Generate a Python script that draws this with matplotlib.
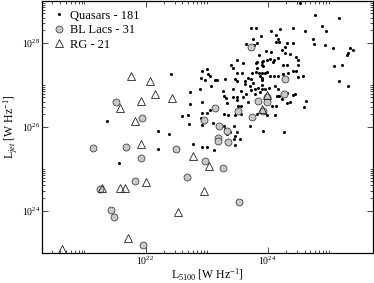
import numpy as np
import matplotlib
matplotlib.use('Agg')
import matplotlib.pyplot as plt
from matplotlib.ticker import FixedLocator, NullFormatter, LogFormatterMathtext

plt.rcParams['font.family'] = ['Liberation Serif', 'DejaVu Serif']
plt.rcParams['mathtext.fontset'] = 'custom'
plt.rcParams['mathtext.rm'] = 'Liberation Serif'
plt.rcParams['mathtext.it'] = 'Liberation Serif:italic'

# log10 L5100 and log10 Ljet [W/Hz]
qso_logx = [24.52, 24.77, 25.17, 24.89, 24.95, 23.72, 23.80, 24.05, 24.20, 24.41,
            24.61, 23.89, 24.14, 23.76, 24.16, 24.13, 24.18, 23.82, 23.77, 23.65,
            24.31, 24.29, 24.41, 24.74, 24.76, 24.94, 25.07, 25.35, 25.39, 25.31,
            25.30, 23.97, 24.06, 24.24, 24.28, 24.36, 24.46, 23.85, 23.83, 23.80,
            23.93, 23.98, 24.03, 24.10, 24.16, 24.50, 24.49, 23.50, 23.40, 23.43,
            24.25, 23.91, 23.92, 25.09, 25.22, 22.92, 23.00, 23.03, 23.05, 22.91,
            22.97, 23.13, 23.17, 23.30, 23.49, 23.58, 23.47, 23.49, 23.68, 23.72,
            23.80, 23.85, 23.90, 23.95, 23.98, 23.87, 23.90, 23.91, 24.10, 24.16,
            24.25, 24.33, 24.42, 24.46, 24.49, 24.58, 25.17, 25.31, 22.89, 23.07,
            23.27, 23.43, 23.57, 23.62, 23.71, 23.73, 23.79, 23.90, 23.91, 24.02,
            24.12, 24.17, 23.29, 23.32, 23.49, 23.50, 23.60, 23.65, 23.79, 23.87,
            24.41, 24.44, 24.15, 24.19, 24.63, 24.59, 23.34, 23.51, 23.56, 24.07,
            24.14, 24.24, 24.31, 24.36, 22.92, 22.90, 23.29, 23.35, 23.46, 23.57,
            23.82, 23.98, 24.12, 23.96, 22.92, 23.10, 23.30, 23.38, 23.34, 23.49,
            23.71, 23.92, 24.27, 23.46, 23.06, 23.44, 23.55, 23.46, 22.77, 22.92,
            23.00, 23.12, 23.29, 23.44, 23.74, 21.37, 22.42, 22.72, 22.59, 22.70,
            22.71, 22.20, 22.38, 22.20, 21.56, 22.72, 23.90, 23.82, 23.60, 24.31,
            24.09, 23.62, 23.76, 24.03, 23.84, 23.95, 23.43, 24.32, 22.92, 23.68,
            23.00]
qso_logy = [28.95, 28.66, 28.60, 28.41, 28.29, 28.36, 28.36, 28.28, 28.33, 28.35,
            28.27, 28.17, 28.19, 28.09, 28.09, 28.01, 28.01, 27.99, 27.96, 27.97,
            27.99, 27.91, 27.99, 28.09, 27.97, 27.95, 27.88, 27.88, 27.82, 27.76,
            27.72, 27.80, 27.78, 27.84, 27.76, 27.73, 27.66, 27.72, 27.54, 27.52,
            27.56, 27.60, 27.62, 27.58, 27.64, 27.59, 27.48, 27.58, 27.48, 27.41,
            27.48, 27.48, 27.44, 27.44, 27.46, 27.34, 27.38, 27.25, 27.21, 27.17,
            27.11, 27.12, 27.11, 27.13, 27.27, 27.27, 27.15, 27.09, 27.17, 27.13,
            27.30, 27.29, 27.29, 27.29, 27.31, 27.22, 27.17, 27.11, 27.21, 27.22,
            27.25, 27.29, 27.33, 27.33, 27.19, 27.21, 27.08, 26.96, 26.89, 26.96,
            26.85, 26.91, 26.85, 27.01, 26.96, 26.88, 26.89, 26.99, 26.89, 26.93,
            26.96, 26.91, 26.74, 26.68, 26.70, 26.64, 26.71, 26.78, 26.78, 26.82,
            26.76, 26.79, 26.74, 26.74, 26.62, 26.46, 26.56, 26.50, 26.50, 26.49,
            26.50, 26.66, 26.57, 26.58, 26.33, 26.21, 26.31, 26.27, 26.28, 26.31,
            26.31, 26.28, 26.27, 26.33, 26.04, 26.08, 25.95, 25.88, 25.84, 25.88,
            26.03, 25.90, 25.88, 25.78, 26.40, 25.71, 25.71, 25.56, 25.58, 25.53,
            25.51, 25.45, 26.01, 26.01, 27.29, 26.13, 27.25, 26.82, 26.25, 26.27,
            26.06, 25.91, 25.82, 25.48, 25.13, 26.54, 27.54, 27.41, 27.52, 27.48,
            27.54, 27.08, 27.05, 27.22, 26.93, 26.89, 26.70, 26.80, 26.58, 26.58,
            26.33]

bll_logx = [21.51, 21.94, 21.14, 21.68, 22.50, 21.92, 21.83, 22.68, 21.26, 21.43,
            21.48, 21.96, 22.98, 23.26, 23.53, 23.73, 24.28, 24.26, 23.98, 23.84,
            23.98, 23.14, 23.52, 23.92, 22.96, 23.75, 23.20, 23.34, 23.18, 23.19,
            23.35]
bll_logy = [26.59, 26.22, 25.50, 25.53, 25.48, 25.25, 24.72, 24.80, 24.51, 24.02,
            23.84, 23.19, 25.18, 25.01, 24.20, 27.90, 27.15, 26.79, 26.70, 26.62,
            26.58, 26.44, 26.37, 26.38, 26.17, 26.23, 26.02, 25.91, 25.74, 25.67,
            25.63]

rg_logx = [21.76, 22.08, 22.15, 22.44, 21.92, 21.59, 21.82, 21.92, 22.00, 21.29,
           21.58, 21.66, 22.53, 21.71, 20.63, 22.77, 23.04, 22.95, 23.98, 23.91]
rg_logy = [27.22, 27.09, 26.79, 26.68, 26.62, 26.45, 26.13, 25.58, 24.69, 24.54,
           24.53, 24.55, 23.97, 23.36, 23.08, 25.30, 25.07, 24.46, 26.75, 26.42]

fig, ax = plt.subplots(figsize=(3.74, 2.83), dpi=100)
fig.subplots_adjust(left=0.113, right=0.997, bottom=0.107, top=0.997)

ax.plot(10**np.array(qso_logx), 10**np.array(qso_logy), 'o', color='k', ms=2.2,
        mew=0, ls='none', label='Quasars - 181')
ax.plot(10**np.array(bll_logx), 10**np.array(bll_logy), 'o', mfc='#c8c8c8', mec='#444444',
        ms=5, mew=0.6, ls='none', label='BL Lacs - 31')
ax.plot(10**np.array(rg_logx), 10**np.array(rg_logy), '^', mfc='none', mec='#222222',
        ms=5.5, mew=0.6, ls='none', label='RG - 21')

ax.set_xscale('log')
ax.set_yscale('log')
ax.set_xlim(10**20.31, 10**25.72)
ax.set_ylim(1e23, 1e29)

ax.xaxis.set_major_locator(FixedLocator([1e22, 1e24]))
ax.yaxis.set_major_locator(FixedLocator([1e24, 1e26, 1e28]))
ax.xaxis.set_major_formatter(LogFormatterMathtext())
ax.yaxis.set_major_formatter(LogFormatterMathtext())
xminor = [k * 10.0**n for n in (20, 22, 24) for k in range(2, 11)]
yminor = [k * 10.0**n for n in (24, 26, 28) for k in range(2, 11)]
ax.xaxis.set_minor_locator(FixedLocator(xminor))
ax.yaxis.set_minor_locator(FixedLocator(yminor))
ax.xaxis.set_minor_formatter(NullFormatter())
ax.yaxis.set_minor_formatter(NullFormatter())

ax.tick_params(which='both', direction='in', top=True, right=True, labelsize=7, width=0.5)
ax.tick_params(which='major', length=4, pad=1.5)
ax.tick_params(which='minor', length=2)
for s in ax.spines.values():
    s.set_linewidth(0.9)

ax.set_xlabel('L$_{5100}$ [W Hz$^{-1}$]', fontsize=8.5, labelpad=0)
ax.set_ylabel('L$_{jet}$ [W Hz$^{-1}$]', fontsize=8.5, labelpad=1)

ax.legend(loc='upper left', frameon=False, fontsize=9, handletextpad=0.3,
          labelspacing=0.2, borderaxespad=0.3, handlelength=1.2)

fig.savefig('out.png', dpi=100)
